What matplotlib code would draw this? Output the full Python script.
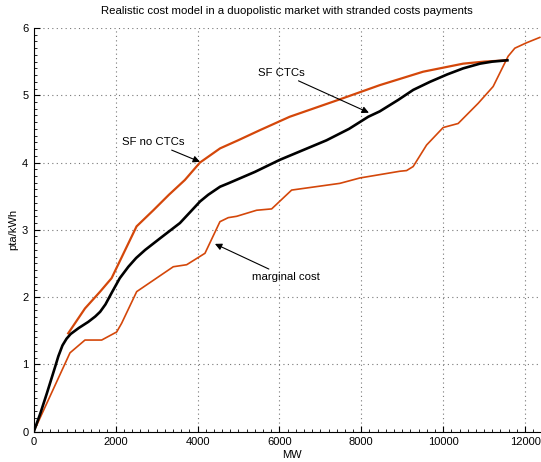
import matplotlib
matplotlib.use("Agg")
import matplotlib.pyplot as plt
from matplotlib.ticker import MultipleLocator

plt.rcParams['font.family'] = ['Liberation Sans', 'DejaVu Sans']
plt.rcParams['font.size'] = 8

# marginal cost curve (MW, pta/kWh)
mc_mw = [0, 884, 1250, 1658, 2024, 2146, 2513, 3407, 3734, 4181, 4547, 4750,
         4955, 5443, 5810, 6298, 7477, 7966, 8943, 9106, 9267, 9595, 10000,
         10366, 10855, 11221, 11587, 11751, 12036, 12361]
mc_price = [0, 1.17, 1.36, 1.36, 1.48, 1.61, 2.08, 2.45, 2.48, 2.65, 3.12, 3.18,
            3.20, 3.29, 3.31, 3.59, 3.69, 3.77, 3.87, 3.88, 3.94, 4.26, 4.52,
            4.58, 4.88, 5.13, 5.58, 5.70, 5.78, 5.86]

# supply function with stranded cost payments
ctc_mw = [0, 160, 320, 520, 600, 700, 800, 900, 1100, 1330, 1500, 1620, 1750,
          1900, 2100, 2310, 2500, 2720, 3100, 3570, 3800, 4060, 4260, 4550,
          4750, 5400, 6010, 6600, 7150, 7700, 8170, 8450, 8900, 9270, 9680,
          10100, 10490, 10900, 11200, 11570]
ctc_price = [0, 0.27, 0.57, 0.96, 1.12, 1.28, 1.38, 1.45, 1.54, 1.63, 1.71, 1.78,
             1.89, 2.06, 2.28, 2.45, 2.58, 2.70, 2.88, 3.10, 3.25, 3.42, 3.52,
             3.64, 3.69, 3.86, 4.04, 4.19, 4.33, 4.50, 4.68, 4.76, 4.93, 5.08,
             5.20, 5.31, 5.40, 5.47, 5.50, 5.52]

# supply function without stranded cost payments
noctc_mw = [840, 1250, 1620, 1900, 2510, 2920, 3300, 3690, 4060, 4550, 4990,
            5520, 6250, 7480, 8450, 9510, 10490, 11000, 11550]
noctc_price = [1.46, 1.83, 2.08, 2.28, 3.05, 3.29, 3.52, 3.74, 4.0, 4.21, 4.33,
               4.48, 4.68, 4.94, 5.15, 5.35, 5.47, 5.50, 5.52]

ORANGE = '#d4470a'

fig = plt.figure(figsize=(5.41, 4.62), dpi=100)
ax = fig.add_axes([0.0625, 0.066, 0.9534, 0.8734])

ax.plot(mc_mw, mc_price, color=ORANGE, lw=1.2)
ax.plot(noctc_mw, noctc_price, color=ORANGE, lw=1.6)
ax.plot(ctc_mw, ctc_price, color='black', lw=1.9)

ax.set_xlim(0, 12600)
ax.set_ylim(0, 6)
ax.xaxis.set_major_locator(MultipleLocator(2000))
ax.xaxis.set_minor_locator(MultipleLocator(200))
ax.yaxis.set_major_locator(MultipleLocator(1))
ax.yaxis.set_minor_locator(MultipleLocator(0.1))
ax.tick_params(which='both', direction='in', top=False, right=False)
ax.tick_params(which='major', length=4, width=0.8, pad=4)
ax.tick_params(which='minor', length=2, width=0.6)
ax.grid(True, which='major', linestyle=(0, (1, 3)), color='#777777', lw=0.8)
ax.spines['top'].set_visible(False)
ax.spines['right'].set_visible(False)

ax.set_title('Realistic cost model in a duopolistic market with stranded costs payments',
             fontsize=8.2, pad=10, x=0.49)
ax.set_xlabel('MW', labelpad=2)
ax.set_ylabel('pta/kWh', labelpad=3)

arrow = dict(arrowstyle='-|>', color='black', lw=0.8, mutation_scale=10,
             shrinkA=0, shrinkB=0)
ax.annotate('SF CTCs', xy=(8186, 4.74), xytext=(5475, 5.33), ha='left', va='center',
            fontsize=8.2, arrowprops=arrow)
ax.annotate('SF no CTCs', xy=(4059, 4.01), xytext=(2146, 4.30), ha='left', va='center',
            fontsize=8.2, arrowprops=arrow)
ax.annotate('marginal cost', xy=(4425, 2.79), xytext=(5320, 2.30), ha='left', va='center',
            fontsize=8.2, arrowprops=arrow)

fig.savefig('out.png', dpi=100)
